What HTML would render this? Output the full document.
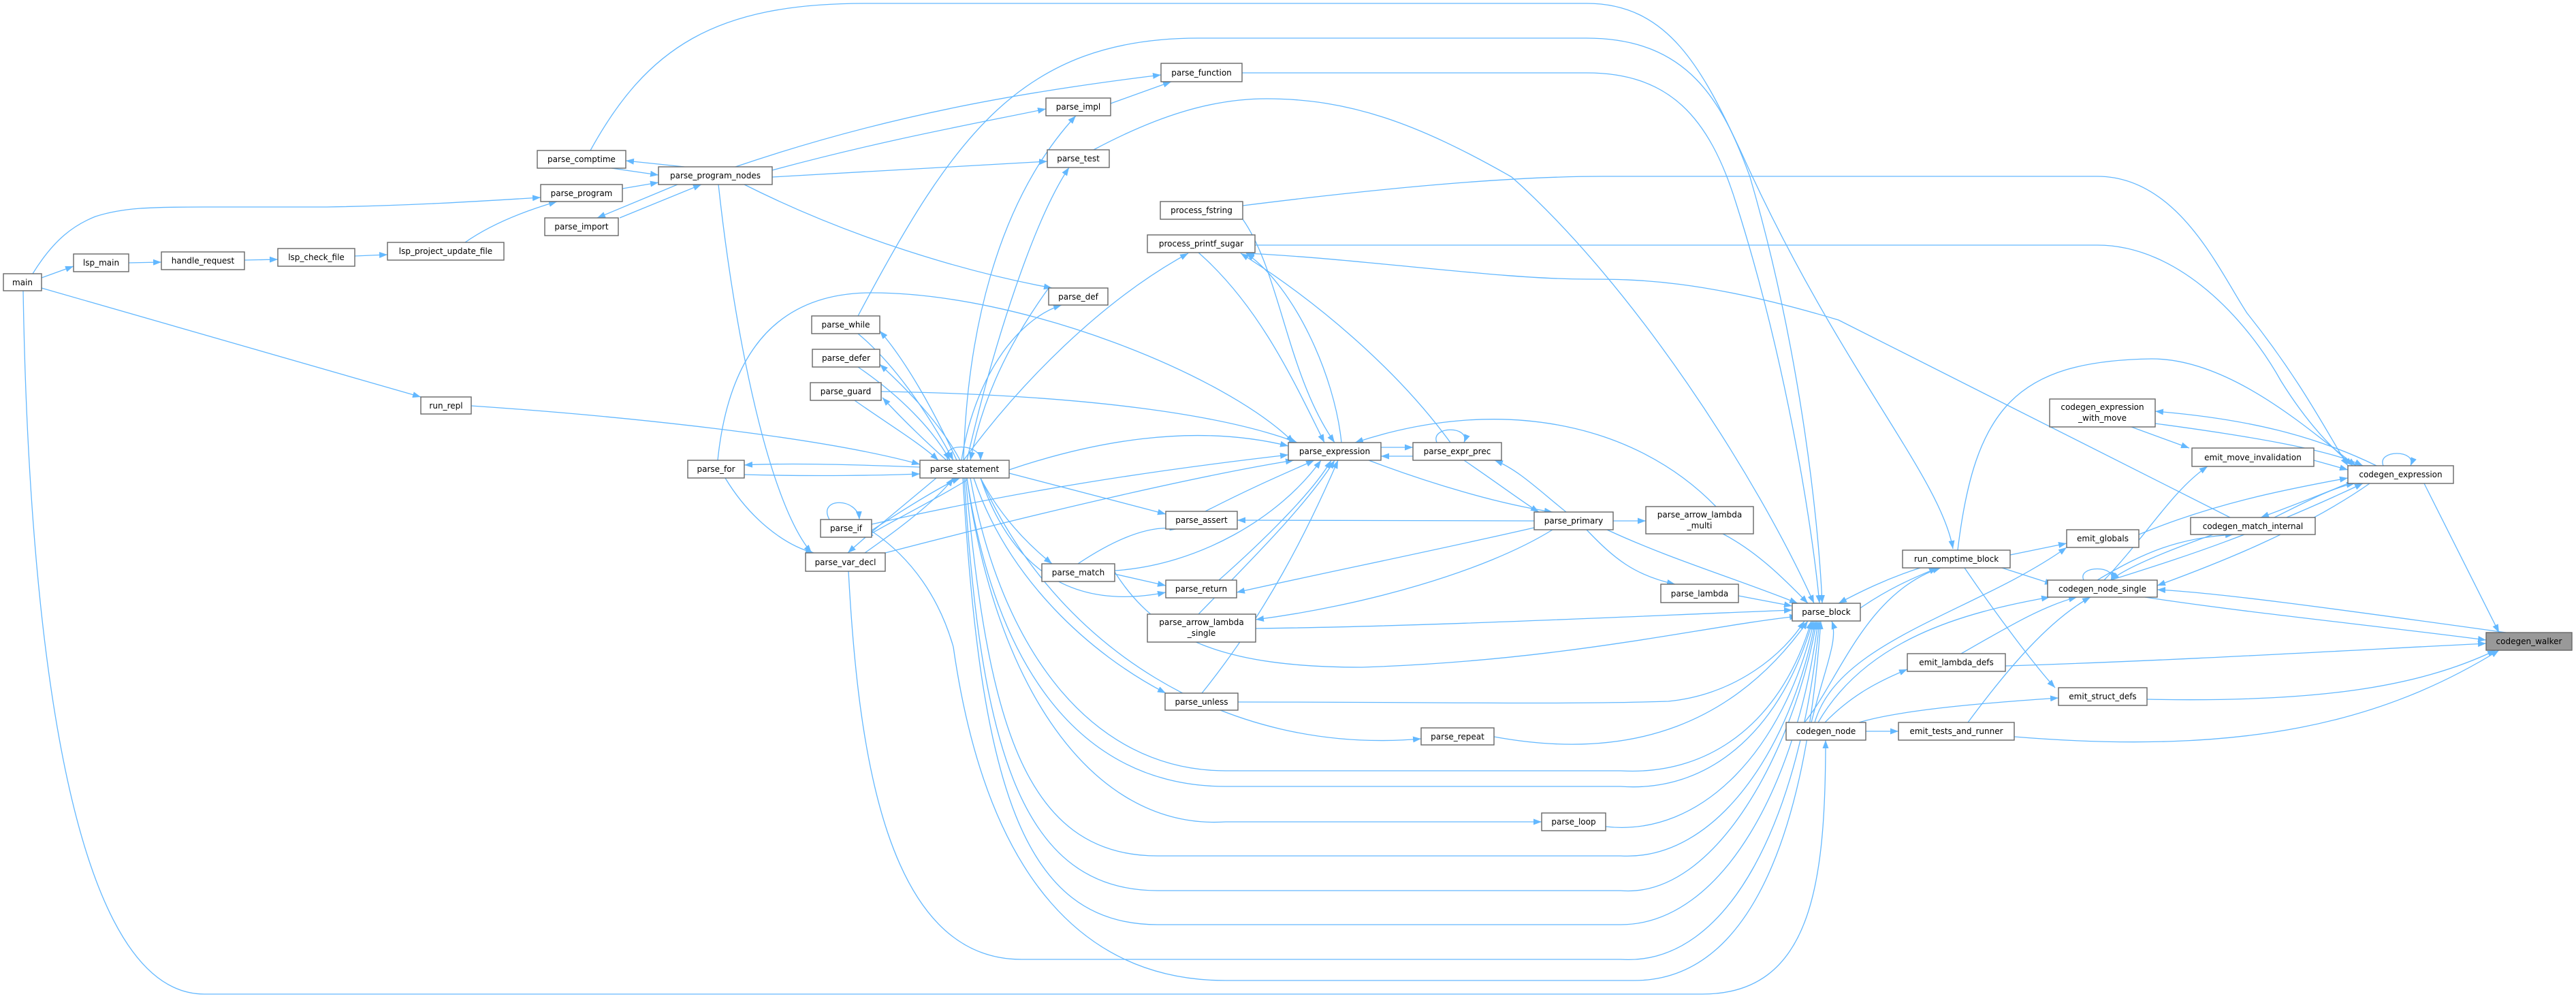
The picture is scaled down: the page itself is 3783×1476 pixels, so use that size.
<!DOCTYPE html>
<html><head><meta charset="utf-8"><style>
html,body{margin:0;padding:0;background:#fff;}
svg{display:block;}
.e{fill:none;stroke:#63b8ff;stroke-width:1.3;}
.n rect{fill:#fff;stroke:#666;stroke-width:1.4;}
.n text{font-family:"DejaVu Sans","Liberation Sans",sans-serif;font-size:12px;fill:#000;text-anchor:middle;}
</style></head><body>
<svg width="3783" height="1476" viewBox="0 0 3783 1476" xmlns="http://www.w3.org/2000/svg">
<defs><marker id="a" viewBox="0 0 12 9" refX="12" refY="4.5" markerWidth="12" markerHeight="9" markerUnits="userSpaceOnUse" orient="auto"><path d="M0,0L12,4.5L0,9z" fill="#63b8ff"/></marker></defs>
<g class="e" marker-end="url(#a)">
<!-- left cluster -->
<path d="M61,408 L108,391"/>
<path d="M189,386 L237,385"/>
<path d="M359,382 L408,381"/>
<path d="M521,376 L569,374"/>
<path d="M683,356 C720,330 770,310 818,296"/>
<path d="M48,402 C80,350 110,330 140,318 C180,305 220,304 300,304 L480,304 C600,302 700,296 794,290"/>
<path d="M61,423 L618,583"/>
<path d="M34,427 C40,800 80,1460 300,1460 L2500,1460 C2660,1460 2681,1300 2681,1087"/>
<path d="M1005,245 L919,236"/>
<path d="M898,247 L967,257"/>
<path d="M914,277 L967,268"/>
<path d="M995,271 L877,320"/>
<path d="M910,320 L1030,271"/>
<path d="M867,221 C950,70 1050,5 1270,5 L2330,5 C2450,5 2500,100 2560,230 C2700,540 2850,700 2868,806"/>
<path d="M1080,245 C1300,170 1500,135 1705,110"/>
<path d="M1134,250 C1300,205 1440,180 1536,160"/>
<path d="M1134,260 C1300,250 1450,242 1538,237"/>
<path d="M1093,271 C1250,350 1420,400 1545,423"/>
<path d="M1055,271 C1080,500 1130,740 1192,812"/>
<path d="M1631,152 L1720,120"/>
<!-- parse_while / function / test to parse_block -->
<path d="M1260,464 C1400,200 1500,56 1760,56 L2330,56 C2480,56 2530,150 2570,260 C2640,500 2670,750 2676,886"/>
<path d="M1824,107 L2330,107 C2450,107 2510,170 2550,300 C2620,520 2660,760 2672,886"/>
<path d="M1606,220 C1700,170 1780,145 1860,145 C1980,145 2080,180 2220,260 C2400,420 2580,700 2664,886"/>
<path d="M1054,676 C1070,520 1140,430 1280,430 C1500,430 1800,550 1900,650"/>
<!-- process_fstring / printf -->
<path d="M1825,302 C2000,280 2200,259 2353,259 L3080,259 C3200,259 3260,400 3300,460 C3380,560 3420,640 3448,684"/>
<path d="M1843,360 L3080,360 C3200,360 3300,470 3350,560 C3400,640 3440,670 3455,684"/>
<path d="M3275,760 L2700,470 C2500,410 2400,410 2330,410 C2200,410 2000,380 1830,372"/>
<path d="M1825,322 C1880,400 1890,550 1960,650"/>
<path d="M1760,371 C1850,450 1900,560 1945,650"/>
<path d="M1970,650 C1960,550 1900,420 1830,372"/>
<path d="M2130,650 C2050,540 1930,440 1822,372"/>
<path d="M1415,676 C1500,560 1620,440 1745,372"/>
<!-- parse_statement incoming/outgoing -->
<path d="M692,596 C900,610 1200,640 1351,682"/>
<path d="M1351,686 C1250,682 1150,680 1093,683"/>
<path d="M1093,697 C1200,700 1300,698 1351,696"/>
<path d="M1065,702 C1100,760 1150,800 1195,812"/>
<path d="M1260,490 C1320,540 1370,620 1400,676"/>
<path d="M1405,676 C1370,600 1330,530 1292,486"/>
<path d="M1260,539 C1320,580 1370,630 1395,676"/>
<path d="M1410,676 C1380,620 1330,570 1292,535"/>
<path d="M1255,588 C1300,620 1350,650 1378,676"/>
<path d="M1390,676 C1350,640 1320,610 1296,584"/>
<path d="M1392,676 C1380,650 1440,650 1440,676"/>
<path d="M1412,676 C1430,560 1490,470 1559,448"/>
<path d="M1540,423 C1470,520 1440,600 1425,676"/>
<path d="M1415,676 C1420,500 1460,300 1580,170"/>
<path d="M1420,676 C1460,500 1520,320 1570,246"/>
<path d="M1420,702 L1420,705 C1380,730 1320,760 1270,789"/>
<path d="M1280,779 C1340,740 1390,710 1410,702"/>
<path d="M1375,702 C1330,740 1280,780 1245,812"/>
<path d="M1270,812 C1330,770 1380,730 1400,702"/>
<path d="M1218,763 C1200,730 1260,730 1262,763"/>
<path d="M1482,690 C1600,650 1750,620 1892,655"/>
<path d="M1280,770 C1500,720 1700,690 1892,668"/>
<path d="M1300,812 C1500,760 1750,700 1900,676"/>
<path d="M1294,575 C1600,580 1800,610 1905,650"/>
<path d="M1482,695 L1712,755"/>
<path d="M1440,702 C1470,760 1510,800 1545,828"/>
<path d="M1440,702 C1480,820 1560,900 1712,870"/>
<path d="M1430,702 C1480,850 1600,960 1712,1018"/>
<!-- parse_expression cluster -->
<path d="M1770,751 C1850,710 1900,690 1930,676"/>
<path d="M1637,838 C1760,830 1880,760 1940,676"/>
<path d="M1583,828 C1640,790 1690,770 1730,777"/>
<path d="M1637,843 L1712,860"/>
<path d="M1790,852 C1860,790 1930,720 1955,676"/>
<path d="M1760,902 C1840,820 1920,740 1960,676"/>
<path d="M1765,1018 C1860,900 1920,780 1965,676"/>
<path d="M2028,657 L2075,657"/>
<path d="M2075,670 L2028,670"/>
<path d="M2110,650 C2100,625 2160,625 2150,650"/>
<path d="M2010,676 C2100,710 2200,740 2280,752"/>
<path d="M2150,676 C2200,710 2240,740 2260,752"/>
<path d="M2300,752 C2260,720 2230,690 2195,676"/>
<path d="M2253,765 L1817,764"/>
<path d="M2253,775 C2100,810 1950,840 1816,870"/>
<path d="M2280,778 C2180,840 2000,890 1844,910"/>
<path d="M2369,765 L2417,765"/>
<path d="M2330,778 C2370,820 2400,845 2460,858"/>
<path d="M2360,778 C2450,820 2550,850 2640,886"/>
<path d="M2520,744 C2400,620 2200,580 1990,650"/>
<path d="M2530,784 C2580,810 2620,850 2655,886"/>
<path d="M2553,875 L2632,890"/>
<path d="M1844,923 C2100,920 2400,905 2632,896"/>
<!-- parse_statement / others to parse_block -->
<path d="M1637,840 C1700,940 1800,980 2000,980 C2300,970 2500,920 2640,905"/>
<path d="M1818,1031 C2100,1031 2300,1035 2450,1030 C2550,1020 2620,960 2650,912"/>
<path d="M1440,702 C1550,950 1800,1110 2087,1085"/>
<path d="M2194,1082 C2400,1120 2550,1060 2655,912"/>
<path d="M1425,702 C1470,950 1600,1132 1800,1132 L2380,1132 C2520,1140 2620,1050 2660,912"/>
<path d="M1420,702 C1460,970 1580,1155 1800,1155 L2380,1155 C2520,1165 2620,1060 2662,912"/>
<path d="M1420,702 C1460,1000 1600,1220 1800,1207 L2264,1207"/>
<path d="M2358,1214 C2500,1230 2620,1100 2664,912"/>
<path d="M1418,702 C1450,1050 1500,1257 1700,1257 L2380,1257 C2520,1265 2630,1100 2666,912"/>
<path d="M1416,702 C1440,1100 1500,1308 1700,1308 L2380,1308 C2520,1320 2635,1100 2668,912"/>
<path d="M1414,702 C1440,1150 1500,1358 1700,1358 L2380,1358 C2530,1358 2640,1150 2670,912"/>
<path d="M1246,839 C1260,1100 1300,1409 1500,1409 L2380,1409 C2540,1420 2645,1200 2672,912"/>
<path d="M1280,780 C1340,820 1380,880 1400,950 C1450,1300 1600,1440 1800,1440 L2400,1440 C2560,1440 2650,1250 2674,912"/>
<!-- right cluster -->
<path d="M2732,893 C2780,860 2820,845 2845,834"/>
<path d="M2820,834 C2770,850 2730,870 2700,886"/>
<path d="M2952,815 L3035,798"/>
<path d="M2940,834 L3015,858"/>
<path d="M2885,834 C2930,900 2990,980 3018,1010"/>
<path d="M2875,808 C2900,600 2960,530 3160,527 C3280,527 3400,640 3460,684"/>
<path d="M2660,1061 C2680,980 2700,940 2690,912"/>
<path d="M2650,1061 C2700,1000 2740,870 2850,834"/>
<path d="M2665,1061 C2700,940 2900,900 3035,804"/>
<path d="M2680,1061 C2720,1020 2760,1000 2801,983"/>
<path d="M2670,1061 C2740,940 2880,900 3010,877"/>
<path d="M2730,1061 C2800,1040 2950,1030 3023,1025"/>
<path d="M2740,1074 L2788,1074"/>
<path d="M2880,960 C2950,920 3000,890 3050,877"/>
<path d="M2890,1061 C2950,980 3010,910 3070,877"/>
<path d="M2945,978 C3200,970 3450,955 3651,945"/>
<path d="M3153,1027 C3400,1032 3550,1010 3665,955"/>
<path d="M2958,1082 C3300,1110 3500,1060 3670,955"/>
<path d="M3680,929 C3400,890 3250,870 3168,866"/>
<path d="M3150,877 C3300,900 3500,920 3651,940"/>
<path d="M3560,710 L3670,929"/>
<path d="M3060,852 C3050,830 3110,830 3100,852"/>
<path d="M3080,852 C3150,810 3200,790 3280,785"/>
<path d="M3250,785 C3180,810 3120,835 3100,852"/>
<path d="M3100,852 C3200,820 3300,790 3470,710"/>
<path d="M3480,710 C3380,780 3250,830 3168,860"/>
<path d="M3090,852 C3150,790 3190,720 3242,685"/>
<path d="M3141,785 C3250,740 3350,720 3448,702"/>
<path d="M3340,760 C3400,730 3430,715 3458,710"/>
<path d="M3448,710 C3400,730 3360,745 3320,760"/>
<path d="M3398,676 L3448,690"/>
<path d="M3130,627 L3215,658"/>
<path d="M3165,622 C3300,640 3420,660 3470,684"/>
<path d="M3490,684 C3400,640 3300,615 3165,604"/>
<path d="M3500,684 C3490,660 3550,660 3540,684"/>
</g>
<g class="n">
<rect x="5" y="402" width="56" height="25"/><text x="33" y="419">main</text>
<rect x="108" y="373" width="81" height="26"/><text x="148.5" y="390">lsp_main</text>
<rect x="237" y="370" width="122" height="26"/><text x="298" y="387">handle_request</text>
<rect x="408" y="365" width="113" height="26"/><text x="464.5" y="382">lsp_check_file</text>
<rect x="569" y="356" width="171" height="26"/><text x="654.5" y="373">lsp_project_update_file</text>
<rect x="789" y="221" width="130" height="26"/><text x="854" y="238">parse_comptime</text>
<rect x="967" y="245" width="167" height="26"/><text x="1050.5" y="262">parse_program_nodes</text>
<rect x="794" y="271" width="120" height="25"/><text x="854" y="288">parse_program</text>
<rect x="800" y="320" width="108" height="26"/><text x="854" y="337">parse_import</text>
<rect x="618" y="583" width="74" height="25"/><text x="655" y="600">run_repl</text>
<rect x="1192" y="464" width="100" height="26"/><text x="1242" y="481">parse_while</text>
<rect x="1193" y="513" width="99" height="26"/><text x="1242.5" y="530">parse_defer</text>
<rect x="1190" y="562" width="104" height="26"/><text x="1242" y="579">parse_guard</text>
<rect x="1010" y="676" width="83" height="26"/><text x="1051.5" y="693">parse_for</text>
<rect x="1205" y="763" width="75" height="26"/><text x="1242.5" y="780">parse_if</text>
<rect x="1183" y="812" width="117" height="27"/><text x="1241.5" y="830">parse_var_decl</text>
<rect x="1705" y="93" width="119" height="27"/><text x="1764.5" y="111">parse_function</text>
<rect x="1536" y="144" width="95" height="26"/><text x="1583.5" y="161">parse_impl</text>
<rect x="1538" y="220" width="91" height="26"/><text x="1583.5" y="237">parse_test</text>
<rect x="1704" y="296" width="121" height="26"/><text x="1764.5" y="313">process_fstring</text>
<rect x="1685" y="345" width="158" height="26"/><text x="1764" y="362">process_printf_sugar</text>
<rect x="1540" y="423" width="87" height="25"/><text x="1583.5" y="440">parse_def</text>
<rect x="1892" y="650" width="136" height="26"/><text x="1960" y="667">parse_expression</text>
<rect x="2075" y="650" width="130" height="26"/><text x="2140" y="667">parse_expr_prec</text>
<rect x="1351" y="676" width="131" height="26"/><text x="1416.5" y="693">parse_statement</text>
<rect x="1712" y="751" width="105" height="26"/><text x="1764.5" y="768">parse_assert</text>
<rect x="2253" y="752" width="116" height="26"/><text x="2311" y="769">parse_primary</text>
<rect x="2417" y="744" width="158" height="40"/><text x="2496" y="760">parse_arrow_lambda</text><text x="2496" y="776">_multi</text>
<rect x="1530" y="828" width="107" height="26"/><text x="1583.5" y="845">parse_match</text>
<rect x="1712" y="852" width="104" height="26"/><text x="1764" y="869">parse_return</text>
<rect x="2439" y="858" width="114" height="27"/><text x="2496" y="876">parse_lambda</text>
<rect x="1685" y="902" width="159" height="41"/><text x="1764.5" y="918">parse_arrow_lambda</text><text x="1764.5" y="934">_single</text>
<rect x="1711" y="1018" width="107" height="25"/><text x="1764.5" y="1035">parse_unless</text>
<rect x="2087" y="1069" width="107" height="25"/><text x="2140.5" y="1086">parse_repeat</text>
<rect x="2264" y="1194" width="94" height="26"/><text x="2311" y="1211">parse_loop</text>
<rect x="3010" y="586" width="155" height="41"/><text x="3087.5" y="602">codegen_expression</text><text x="3087.5" y="618">_with_move</text>
<rect x="3219" y="658" width="179" height="27"/><text x="3308.5" y="676">emit_move_invalidation</text>
<rect x="3448" y="684" width="155" height="26"/><text x="3525.5" y="701">codegen_expression</text>
<rect x="3217" y="760" width="183" height="25"/><text x="3308.5" y="777">codegen_match_internal</text>
<rect x="3035" y="778" width="106" height="26"/><text x="3088" y="795">emit_globals</text>
<rect x="2794" y="808" width="158" height="26"/><text x="2873" y="825">run_comptime_block</text>
<rect x="3007" y="852" width="161" height="25"/><text x="3087.5" y="869">codegen_node_single</text>
<rect x="2632" y="886" width="100" height="26"/><text x="2682" y="903">parse_block</text>
<rect x="3651" y="929" width="126" height="26" style="fill:#999"/><text x="3714" y="946">codegen_walker</text>
<rect x="2801" y="960" width="144" height="26"/><text x="2873" y="977">emit_lambda_defs</text>
<rect x="3023" y="1010" width="130" height="26"/><text x="3088" y="1027">emit_struct_defs</text>
<rect x="2623" y="1061" width="117" height="26"/><text x="2681.5" y="1078">codegen_node</text>
<rect x="2788" y="1061" width="170" height="26"/><text x="2873" y="1078">emit_tests_and_runner</text>
</g>
</svg>
</body></html>
